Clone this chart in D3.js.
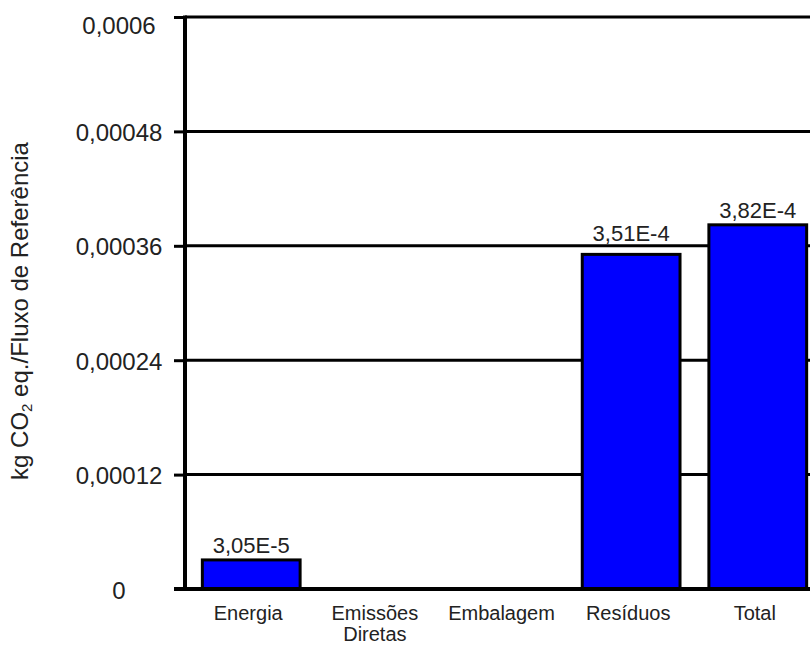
<!DOCTYPE html>
<html>
<head>
<meta charset="utf-8">
<script src="https://cdn.jsdelivr.net/npm/d3@7"></script>
<style>
  html, body { margin: 0; padding: 0; background: #fff; }
  svg { display: block; }
  text { font-family: "Liberation Sans", Arial, Helvetica, sans-serif; fill: #222; }
</style>
</head>
<body>
<svg id="chart" width="810" height="647"></svg>
<script>
// Emission contributions per life-cycle stage (kg CO2 eq. per reference flow)
const categories = ["Energia", "Emissões\nDiretas", "Embalagem", "Resíduos", "Total"];
const values = [3.05e-5, 0, 0, 3.51e-4, 3.82e-4];
const valueLabels = ["3,05E-5", null, null, "3,51E-4", "3,82E-4"];
const yTicks = [0, 0.00012, 0.00024, 0.00036, 0.00048, 0.0006];
const yTickLabels = ["0", "0,00012", "0,00024", "0,00036", "0,00048", "0,0006"];

const svg = d3.select("#chart");
const W = 810;
const plotLeft = 185, plotTop = 17, plotBottom = 589;

const y = d3.scaleLinear().domain([0, 0.0006]).range([plotBottom, plotTop]);
const x = d3.scaleBand()
  .domain(categories)
  .range([plotLeft, 824])
  .paddingInner(0.228)
  .paddingOuter(0.137);

// horizontal gridlines
const gridY = yTicks.filter(d => d > 0).map(d => y(d));
svg.append("g")
  .selectAll("line")
  .data(gridY)
  .join("line")
  .attr("x1", plotLeft).attr("x2", W)
  .attr("y1", d => d).attr("y2", d => d)
  .attr("stroke", "#000").attr("stroke-width", 3);

// bars
svg.append("g")
  .selectAll("rect")
  .data(categories.map((c, i) => ({c, v: values[i]})).filter(d => d.v > 0))
  .join("rect")
  .attr("x", d => x(d.c))
  .attr("width", x.bandwidth())
  .attr("y", d => y(d.v))
  .attr("height", d => y(0) - y(d.v))
  .attr("fill", "#0000ff")
  .attr("stroke", "#000")
  .attr("stroke-width", 3);

// y axis with ticks pointing left
const yAxis = d3.axisLeft(y)
  .tickValues(yTicks)
  .tickSize(11)
  .tickFormat((d, i) => yTickLabels[i]);
const gy = svg.append("g").attr("transform", `translate(${plotLeft},0)`).call(yAxis);
gy.select(".domain").remove();
gy.selectAll(".tick line").attr("stroke", "#000").attr("stroke-width", 3);
gy.selectAll(".tick text")
  .attr("x", -66).attr("dy", d => d === 0.0006 ? 16 : 9)
  .attr("text-anchor", "middle")
  .attr("font-size", 24)
  .attr("font-family", "Liberation Sans, Arial, sans-serif")
  .attr("fill", "#222");

// axis lines
svg.append("line")
  .attr("x1", plotLeft).attr("x2", plotLeft).attr("y1", plotTop - 1.5).attr("y2", plotBottom + 2)
  .attr("stroke", "#000").attr("stroke-width", 4);
svg.append("line")
  .attr("x1", plotLeft - 11).attr("x2", W).attr("y1", plotBottom).attr("y2", plotBottom)
  .attr("stroke", "#000").attr("stroke-width", 4);

// value labels above bars, lifted clear of any gridline they would cross
function labelBaseline(v) {
  let b = y(v) - 7;
  gridY.forEach(g => { if (b > g - 2 && b - 16 < g + 2) b = g - 4.5; });
  return b;
}
svg.append("g")
  .selectAll("text")
  .data(categories.map((c, i) => ({c, v: values[i], t: valueLabels[i]})).filter(d => d.t))
  .join("text")
  .attr("x", d => x(d.c) + x.bandwidth() / 2)
  .attr("y", d => labelBaseline(d.v))
  .attr("text-anchor", "middle")
  .attr("font-size", 22)
  .text(d => d.t);

// category labels
const cat = svg.append("g")
  .selectAll("text")
  .data(categories)
  .join("text")
  .attr("transform", d => `translate(${x(d) + x.bandwidth() / 2 - 3},620)`)
  .attr("text-anchor", "middle")
  .attr("font-size", 20);
cat.selectAll("tspan")
  .data(d => d.split("\n"))
  .join("tspan")
  .attr("x", 0)
  .attr("dy", (d, i) => i === 0 ? 0 : 21)
  .text(d => d);

// y axis title
const title = svg.append("text")
  .attr("transform", "translate(28,311) rotate(-90)")
  .attr("text-anchor", "middle")
  .attr("font-size", 24);
title.append("tspan").text("kg CO");
title.append("tspan").attr("font-size", 15).attr("dy", 4).text("2");
title.append("tspan").attr("dy", -4).text(" eq./Fluxo de Referência");
</script>
</body>
</html>
